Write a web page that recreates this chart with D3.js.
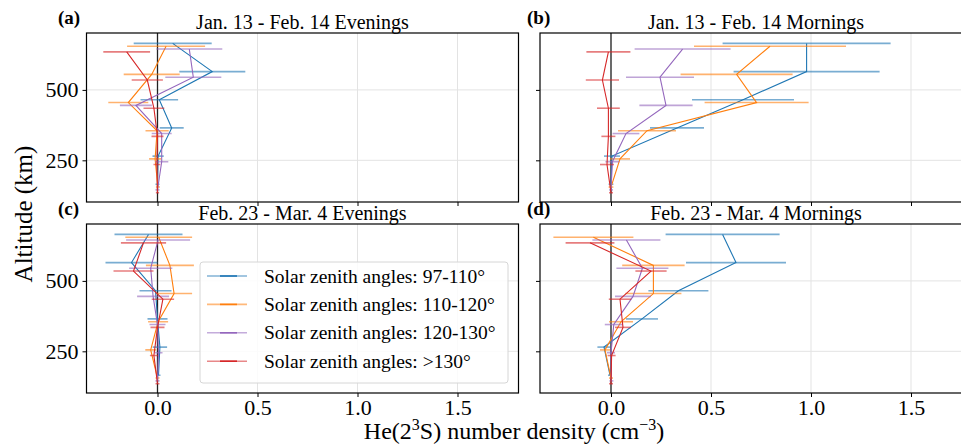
<!DOCTYPE html>
<html><head><meta charset="utf-8">
<script src="https://cdn.jsdelivr.net/npm/d3@7"></script>
<style>
body{margin:0;background:#fff;}
</style></head>
<body><svg id="c" width="961" height="444"></svg>
<script>
// ---- data ----
const seriesNames = ["Solar zenith angles: 97-110°","Solar zenith angles: 110-120°","Solar zenith angles: 120-130°","Solar zenith angles: >130°"];
const seriesColors = ["#1f77b4","#ff7f0e","#9467bd","#d62728"];
const altBlue   = [665,565,465,365,265,165];
const altOrange = [655,555,455,355,255,155];
const altPurple = [645,545,445,345,245,145];
const altRed    = [635,535,435,335,235,135];
const panelTitles = ["Jan. 13 - Feb. 14 Evenings","Jan. 13 - Feb. 14 Mornings","Feb. 23 - Mar. 4 Evenings","Feb. 23 - Mar. 4 Mornings"];
const panelLetters = ["(a)","(b)","(c)","(d)"];
const xTicks = [0.0,0.5,1.0,1.5];
const yTicks = [250,500];

// panel (a)
const aBlue   = [0.076,0.274,0.009,0.071,0.003,0.0],   aBlueErr   = [0.195,0.165,0.094,0.06,0.028,0.01];
const aOrange = [0.043,-0.029,-0.146,-0.002,-0.012,0.002], aOrangeErr = [0.195,0.14,0.1,0.058,0.03,0.01];
const aPurple = [0.159,0.179,-0.108,0.021,0.021,0.0],  aPurpleErr = [0.165,0.14,0.08,0.05,0.033,0.01];
const aRed    = [-0.154,-0.051,-0.018,0.0,-0.003,0.0], aRedErr    = [0.117,0.078,0.052,0.03,0.017,0.008];
// panel (b)
const bBlue   = [0.978,0.978,0.66,0.33,0.005,0.0],     bBlueErr   = [0.42,0.365,0.255,0.135,0.04,0.012];
const bOrange = [0.795,0.628,0.728,0.18,0.045,0.0],    bOrangeErr = [0.38,0.28,0.26,0.145,0.05,0.012];
const bPurple = [0.358,0.245,0.275,0.075,0.007,0.0],   bPurpleErr = [0.24,0.17,0.133,0.067,0.035,0.01];
const bRed    = [-0.013,-0.043,-0.013,-0.013,-0.02,0.0], bRedErr  = [0.11,0.083,0.057,0.035,0.035,0.01];
// panel (c)
const cBlue   = [-0.045,-0.13,-0.01,0.0,0.012,0.005],  cBlueErr   = [0.17,0.13,0.08,0.05,0.036,0.01];
const cOrange = [0.006,0.062,0.083,0.003,-0.034,0.0],  cOrangeErr = [0.167,0.12,0.09,0.05,0.027,0.01];
const cPurple = [0.003,-0.034,-0.022,0.0,0.005,0.0],   cPurpleErr = [0.16,0.108,0.08,0.04,0.02,0.01];
const cRed    = [-0.07,-0.12,0.027,0.0,-0.018,0.0],    cRedErr    = [0.113,0.1,0.056,0.035,0.02,0.01];
// panel (d)
const dBlue   = [0.558,0.625,0.337,0.155,-0.035,-0.005], dBlueErr = [0.285,0.25,0.15,0.08,0.033,0.01];
const dOrange = [-0.088,0.212,0.212,0.05,-0.03,0.0],   dOrangeErr = [0.2,0.156,0.14,0.06,0.025,0.01];
const dPurple = [0.077,0.157,0.11,0.014,0.0,0.002],    dPurpleErr = [0.17,0.13,0.09,0.045,0.02,0.01];
const dRed    = [-0.105,0.2,0.045,0.06,0.003,0.0],     dRedErr    = [0.122,0.078,0.056,0.04,0.02,0.01];

const alts = [altBlue, altOrange, altPurple, altRed];
const panelData = [
  [[aBlue,aBlueErr],[aOrange,aOrangeErr],[aPurple,aPurpleErr],[aRed,aRedErr]],
  [[bBlue,bBlueErr],[bOrange,bOrangeErr],[bPurple,bPurpleErr],[bRed,bRedErr]],
  [[cBlue,cBlueErr],[cOrange,cOrangeErr],[cPurple,cPurpleErr],[cRed,cRedErr]],
  [[dBlue,dBlueErr],[dOrange,dOrangeErr],[dPurple,dPurpleErr],[dRed,dRedErr]]
];

// ---- layout ----
const FONT = "'Liberation Serif', 'Times New Roman', serif";
const svg = d3.select("#c");
const pw = 432, ph = 169;
const lefts = [86.5, 540], tops = [33, 224];
const letterX = [58, 527];
const xDomain = [-0.355, 1.805], yDomain = [102, 702];

panelData.forEach((pd, pi) => {
  const col = pi % 2, row = Math.floor(pi / 2);
  const x0 = lefts[col], y0 = tops[row];
  const x = d3.scaleLinear().domain(xDomain).range([0, pw]);
  const y = d3.scaleLinear().domain(yDomain).range([ph, 0]);
  const g = svg.append("g").attr("transform", `translate(${x0},${y0})`);
  const cid = "clip" + pi;
  g.append("clipPath").attr("id", cid).append("rect").attr("width", pw).attr("height", ph);

  // grid
  g.append("g").selectAll("line").data(xTicks).join("line")
    .attr("x1", d => x(d)).attr("x2", d => x(d)).attr("y1", 0).attr("y2", ph)
    .attr("stroke", "#e3e3e3").attr("stroke-width", 1);
  g.append("g").selectAll("line").data(yTicks).join("line")
    .attr("x1", 0).attr("x2", pw).attr("y1", d => y(d)).attr("y2", d => y(d))
    .attr("stroke", "#e3e3e3").attr("stroke-width", 1);

  // zero line
  g.append("line").attr("x1", x(0)).attr("x2", x(0)).attr("y1", 0).attr("y2", ph)
    .attr("stroke", "#222").attr("stroke-width", 1.3);

  const plot = g.append("g").attr("clip-path", `url(#${cid})`);
  pd.forEach((s, si) => {
    const vals = s[0], errs = s[1], al = alts[si];
    const pts = vals.map((v, i) => ({v, e: errs[i], a: al[i]}));
    plot.append("g").selectAll("line").data(pts).join("line")
      .attr("x1", d => x(d.v - d.e)).attr("x2", d => x(d.v + d.e))
      .attr("y1", d => y(d.a)).attr("y2", d => y(d.a))
      .attr("stroke", seriesColors[si]).attr("stroke-opacity", 0.6).attr("stroke-width", 1.6);
    plot.append("path").datum(pts)
      .attr("d", d3.line().x(d => x(d.v)).y(d => y(d.a)))
      .attr("fill", "none").attr("stroke", seriesColors[si]).attr("stroke-width", 1.1);
  });

  // axes
  const xAxis = d3.axisBottom(x).tickValues(xTicks).tickSize(4).tickPadding(3)
    .tickFormat(row === 1 ? d3.format(".1f") : () => "");
  const xg = g.append("g").attr("transform", `translate(0,${ph})`).call(xAxis);
  const yAxis = d3.axisLeft(y).tickValues(yTicks).tickSize(4).tickPadding(4)
    .tickFormat(col === 0 ? d3.format("d") : () => "");
  const yg = g.append("g").call(yAxis);
  [xg, yg].forEach(a => {
    a.attr("font-family", null).attr("font-size", null);
    a.select(".domain").remove();
    a.selectAll(".tick line").attr("stroke", "#000").attr("stroke-width", 1);
    a.selectAll(".tick text").style("font-family", FONT).style("font-size", "22px");
  });
  xg.selectAll(".tick text").attr("dy", "0.68em");

  g.append("rect").attr("width", pw).attr("height", ph).attr("fill", "none")
    .attr("stroke", "#000").attr("stroke-width", 1.2);

  // title & letter
  svg.append("text").attr("x", x0 + pw / 2).attr("y", y0 - 4).attr("text-anchor", "middle")
    .style("font-family", FONT).style("font-size", "20px").text(panelTitles[pi]);
  svg.append("text").attr("x", letterX[col]).attr("y", y0 - 9)
    .style("font-family", FONT).style("font-size", "19px").style("font-weight", "bold").text(panelLetters[pi]);

  // legend in panel (c)
  if (pi === 2) {
    const lg = g.append("g").attr("transform", `translate(${200 - x0},${262 - y0})`);
    lg.append("rect").attr("width", 308).attr("height", 121).attr("rx", 3)
      .attr("fill", "#fff").attr("fill-opacity", 0.85).attr("stroke", "#d6d6d6");
    seriesNames.forEach((nm, si) => {
      const yy = 14 + si * 28.4;
      lg.append("line").attr("x1", 7).attr("x2", 47).attr("y1", yy).attr("y2", yy)
        .attr("stroke", seriesColors[si]).attr("stroke-opacity", 0.55).attr("stroke-width", 1.6);
      lg.append("line").attr("x1", 20).attr("x2", 37).attr("y1", yy).attr("y2", yy)
        .attr("stroke", seriesColors[si]).attr("stroke-width", 1.6);
      lg.append("text").attr("x", 64).attr("y", yy + 6.5)
        .style("font-family", FONT).style("font-size", "19.5px").text(nm);
    });
  }
});

// axis labels
svg.append("text").attr("transform", "translate(32,214) rotate(-90)").attr("text-anchor", "middle")
  .style("font-family", FONT).style("font-size", "25px").text("Altitude (km)");
const xl = svg.append("text").attr("x", 514).attr("y", 439).attr("text-anchor", "middle")
  .style("font-family", FONT).style("font-size", "24px");
xl.append("tspan").text("He(2");
xl.append("tspan").attr("dy", -9).style("font-size", "16px").text("3");
xl.append("tspan").attr("dy", 9).text("S) number density (cm");
xl.append("tspan").attr("dy", -9).style("font-size", "16px").text("−3");
xl.append("tspan").attr("dy", 9).text(")");
</script></body></html>
